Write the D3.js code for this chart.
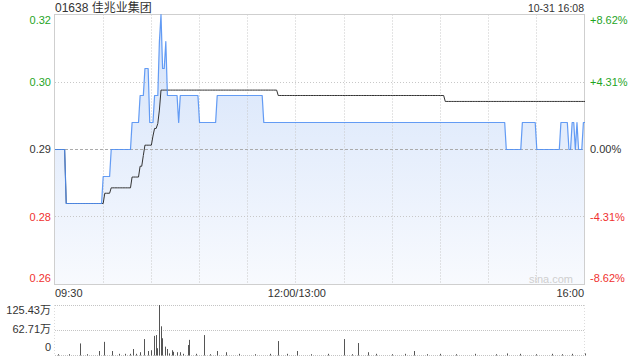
<!DOCTYPE html>
<html><head><meta charset="utf-8">
<script src="https://cdn.jsdelivr.net/npm/d3@7"></script>
<style>
html,body{margin:0;padding:0;background:#fff;}
svg{display:block;font-family:"Liberation Sans",Arial,"Noto Sans CJK SC",sans-serif;}
</style></head><body>
<svg id="c" width="640" height="360"></svg>
<script>
// ---------- data ----------
const title = "01638 佳兆业集团";
const stamp = "10-31 16:08";
const prevClose = 0.29;
const priceTicks = [0.315, 0.3025, 0.29, 0.2775, 0.265];
const priceTickLabels = ["0.32", "0.30", "0.29", "0.28", "0.26"];
const pctTickLabels = ["+8.62%", "+4.31%", "0.00%", "-4.31%", "-8.62%"];
const timeTickMinutes = [0, 150, 330];
const timeTickLabels = ["09:30", "12:00/13:00", "16:00"];
const gridMinutes = [30, 60, 90, 120, 150, 180, 210, 240, 270, 300];
// minutes since 09:30 (lunch break removed) where the price changes, and the new price
const priceChangeMinutes = [0, 7, 30, 35, 48, 53, 56, 59, 62, 65, 66, 67, 69, 70, 77, 78, 90, 101, 130, 281, 291, 300, 315, 320, 322, 324, 325, 326, 329];
const priceChangeValues  = [0.29, 0.28, 0.285, 0.29, 0.295, 0.30, 0.305, 0.295, 0.30, 0.31, 0.315, 0.305, 0.31, 0.30, 0.295, 0.30, 0.295, 0.30, 0.295, 0.29, 0.295, 0.29, 0.295, 0.29, 0.295, 0.29, 0.295, 0.29, 0.295];
const avgChangeMinutes = [0, 7, 31, 35, 48, 53, 55, 56, 61, 62, 64, 65, 66, 139, 243];
const avgChangeValues  = [0.29, 0.28, 0.2819, 0.2829, 0.2849, 0.2869, 0.2889, 0.2908, 0.2925, 0.2939, 0.2948, 0.2973, 0.3010, 0.3000, 0.2989];
const lastMinute = 330;
// volume (万) per minute
const volMinutes = [2, 9, 16, 20, 28, 31, 36, 40, 44, 47, 49, 51, 53, 56, 58, 60, 62, 63, 64, 65, 66, 67, 69, 70, 71, 73, 74, 76, 78, 80, 83, 84, 88, 93, 97, 101, 107, 115, 125, 134, 139, 145, 151, 160, 170, 180, 185, 189, 195, 200, 210, 218, 224, 232, 240, 250, 262, 275, 282, 290, 300, 310, 316, 322, 330];
const volValues  = [2, 2, 29, 2, 10, 33, 10, 3, 3, 3, 15, 3, 7, 40, 10, 12, 48, 50, 17, 125.43, 72, 42, 21, 15, 4, 12, 8, 7, 7, 3, 25, 38, 3, 50, 2, 10, 7, 3, 2, 3, 35, 3, 10, 2, 3, 40, 2, 30, 7, 3, 2, 3, 10, 2, 3, 2, 3, 2, 4, 3, 2, 3, 2, 3, 4];
const volTicks = [125.43, 62.71, 0];
const volTickLabels = ["125.43万", "62.71万", "0"];

// ---------- build series (price held until next change) ----------
function expand(mins, vals) {
  const out = [];
  let k = 0;
  for (let m = 0; m <= lastMinute; m++) {
    while (k + 1 < mins.length && mins[k + 1] <= m) k++;
    out.push({m: m, p: vals[k]});
  }
  return out;
}
const priceSeries = expand(priceChangeMinutes, priceChangeValues);
const avgSeries = expand(avgChangeMinutes, avgChangeValues);
const volSeries = volMinutes.map((m, i) => ({m: m, v: volValues[i]}));

// ---------- chart ----------
const svg = d3.select("#c");
const L = 55, R = 585, T = 14.5, B = 284.5;
const x = d3.scaleLinear().domain([0, 330]).range([L, R]);
const y = d3.scaleLinear().domain([0.265, 0.315]).range([B, T]);
const vTop = 305, vBot = 355;
const v = d3.scaleLinear().domain([0, 125.43]).range([vBot, vTop]);
const crisp = p => Math.floor(p) + 0.5;

const green = "#1fa51f", red = "#f0312f", dark = "#333";
const tickColor = (i) => i < 2 ? green : (i === 2 ? dark : red);

const defs = svg.append("defs");
const grad = defs.append("linearGradient").attr("id", "fillg")
  .attr("gradientUnits", "userSpaceOnUse").attr("x1", 0).attr("x2", 0).attr("y1", T).attr("y2", B);
grad.append("stop").attr("offset", "0%").attr("stop-color", "#d3e2fa");
grad.append("stop").attr("offset", "100%").attr("stop-color", "#f8fafe");

// area fill
svg.append("path").datum(priceSeries)
  .attr("d", d3.area().x(d => x(d.m)).y0(B).y1(d => y(d.p)))
  .attr("fill", "url(#fillg)");

// vertical grid
svg.append("g").selectAll("line").data(gridMinutes).join("line")
  .attr("x1", d => crisp(x(d))).attr("x2", d => crisp(x(d)))
  .attr("y1", T).attr("y2", B)
  .attr("stroke", "#c8c8c8").attr("stroke-dasharray", "1,2");

// horizontal grid
svg.append("g").selectAll("line").data(priceTicks.filter((d, i) => i === 1 || i === 3)).join("line")
  .attr("x1", L).attr("x2", R - 0.5)
  .attr("y1", d => crisp(y(d))).attr("y2", d => crisp(y(d)))
  .attr("stroke", "#c8c8c8").attr("stroke-dasharray", "1,2");
svg.append("line")
  .attr("x1", L).attr("x2", R - 0.5)
  .attr("y1", crisp(y(prevClose))).attr("y2", crisp(y(prevClose)))
  .attr("stroke", "#ababab").attr("stroke-dasharray", "3,2");

// border
svg.append("rect").attr("x", 54.5).attr("y", T).attr("width", 530).attr("height", B - T)
  .attr("fill", "none").attr("stroke", "#cfcfcf");

// average line
svg.append("path").datum(avgSeries)
  .attr("d", d3.line().x(d => x(d.m)).y(d => y(d.p)))
  .attr("fill", "none").attr("stroke", "#333").attr("stroke-width", 1);

// price line
svg.append("path").datum(priceSeries)
  .attr("d", d3.line().x(d => x(d.m)).y(d => y(d.p)))
  .attr("fill", "none").attr("stroke", "#4f8ef2").attr("stroke-width", 1.2)
  .attr("stroke-opacity", 0.88).attr("stroke-linejoin", "round");

// black line over the shared part is handled by drawing order above

// left price labels
const lblOff = [5.5, 0, 0, 0, -6];
svg.append("g").selectAll("text").data(priceTicks).join("text")
  .attr("x", 51).attr("y", (d, i) => y(d) + lblOff[i]).attr("dy", "0.36em")
  .attr("text-anchor", "end").attr("font-size", 11)
  .attr("fill", (d, i) => tickColor(i)).text((d, i) => priceTickLabels[i]);

// right pct labels
svg.append("g").selectAll("text").data(priceTicks).join("text")
  .attr("x", 590).attr("y", (d, i) => y(d) + lblOff[i]).attr("dy", "0.36em")
  .attr("text-anchor", "start").attr("font-size", 11)
  .attr("fill", (d, i) => tickColor(i)).text((d, i) => pctTickLabels[i]);

// time labels
const anchors = ["start", "middle", "end"];
svg.append("g").selectAll("text").data(timeTickMinutes).join("text")
  .attr("x", (d, i) => i === 2 ? 584 : x(d) + (i === 1 ? 1 : 0)).attr("y", 297)
  .attr("text-anchor", (d, i) => anchors[i]).attr("font-size", 11).attr("fill", dark)
  .text((d, i) => timeTickLabels[i]);

// title & stamp
svg.append("text").attr("x", 55).attr("y", 12).attr("font-size", 12).attr("fill", dark).text(title);
svg.append("text").attr("x", 584).attr("y", 12).attr("font-size", 10.5).attr("text-anchor", "end").attr("fill", dark).text(stamp);

// watermark
svg.append("text").attr("x", 573).attr("y", 283).attr("text-anchor", "end")
  .attr("font-size", 11).attr("fill", "#cfcfcf").text("sina.com");

// volume grid
svg.append("g").selectAll("line").data(volTicks).join("line")
  .attr("x1", L).attr("x2", R - 0.5)
  .attr("y1", d => crisp(v(d))).attr("y2", d => crisp(v(d)))
  .attr("stroke", "#c4c4c4").attr("stroke-dasharray", "1,1");
svg.append("g").selectAll("line").data([54.5, 584.5]).join("line")
  .attr("x1", d => d).attr("x2", d => d).attr("y1", vTop).attr("y2", vBot)
  .attr("stroke", "#dcdcdc").attr("stroke-dasharray", "1,2");

// volume bars
svg.append("g").selectAll("rect").data(volSeries).join("rect")
  .attr("x", d => Math.floor(x(d.m))).attr("width", 1)
  .attr("y", d => v(d.v)).attr("height", d => vBot - v(d.v) + 0.5)
  .attr("fill", "#555");

// volume labels
const vOff = [5, -1, -8];
svg.append("g").selectAll("text").data(volTicks).join("text")
  .attr("x", 51).attr("y", (d, i) => v(d) + vOff[i]).attr("dy", "0.36em")
  .attr("text-anchor", "end").attr("font-size", 11).attr("fill", dark)
  .text((d, i) => volTickLabels[i]);
</script>
</body></html>
